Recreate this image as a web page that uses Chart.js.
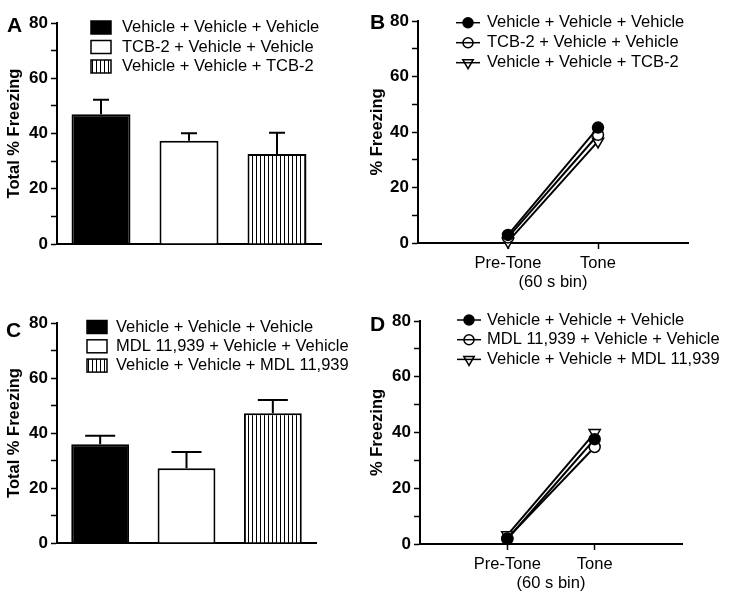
<!DOCTYPE html>
<html>
<head>
<meta charset="utf-8">
<script src="https://cdn.jsdelivr.net/npm/chart.js@4.4.0/dist/chart.umd.min.js"></script>
<style>
  body { margin: 0; background: #fff; width: 729px; height: 605px; position: relative; overflow: hidden;
         font-family: "Liberation Sans", Arial, sans-serif; }
  .panel { position: absolute; }
  .letter { position: absolute; font-weight: bold; font-size: 21px; line-height: 21px; color: #000; }
</style>
</head>
<body>
<div class="panel" style="left:0;top:0;width:365px;height:300px"><canvas id="chartA"></canvas></div>
<div class="panel" style="left:365px;top:0;width:364px;height:300px"><canvas id="chartB"></canvas></div>
<div class="panel" style="left:0;top:300px;width:365px;height:305px"><canvas id="chartC"></canvas></div>
<div class="panel" style="left:365px;top:300px;width:364px;height:305px"><canvas id="chartD"></canvas></div>
<div class="letter" style="left:7px;top:14px">A</div>
<div class="letter" style="left:370px;top:11px">B</div>
<div class="letter" style="left:6px;top:319px">C</div>
<div class="letter" style="left:370px;top:313px">D</div>
<script>
// ---- data ----
const groupsA = ['Vehicle + Vehicle + Vehicle', 'TCB-2 + Vehicle + Vehicle', 'Vehicle + Vehicle + TCB-2'];
const meansA = [47.0, 37.4, 32.6];
const semA = [5.2, 2.7, 7.7];

const groupsC = ['Vehicle + Vehicle + Vehicle', 'MDL 11,939 + Vehicle + Vehicle', 'Vehicle + Vehicle + MDL 11,939'];
const meansC = [35.9, 27.2, 47.2];
const semC = [3.1, 5.9, 4.8];

const timeBins = ['Pre-Tone', 'Tone'];
const vehVehVehB = [2.9, 41.6];
const tcbVehVehB = [2.0, 39.0];
const vehVehTcbB = [0.5, 36.6];

const vehVehVehD = [1.8, 37.6];
const mdlVehVehD = [2.0, 34.8];
const vehVehMdlD = [3.2, 39.9];

const yTicks = [0, 20, 40, 60, 80];

// ---- helpers ----
const FONT = '"Liberation Sans", Arial, sans-serif';

const stripes = (() => {
    const c = document.createElement('canvas');
    c.width = 4; c.height = 4;
    const g = c.getContext('2d');
    g.fillStyle = '#fff'; g.fillRect(0, 0, 4, 4);
    g.fillStyle = '#000'; g.fillRect(0, 0, 1, 4);
    return g.createPattern(c, 'repeat');
})();

// error bars (mean + SEM, upper only) drawn from the y scale
const errorBars = {
    id: 'errorBars',
    afterDatasetsDraw(chart, args, opts) {
        if (!opts.sem) return;
        const ctx = chart.ctx;
        const y = chart.scales.y;
        const meta = chart.getDatasetMeta(0);
        const values = chart.data.datasets[0].data;
        const cap = opts.cap || 8;
        ctx.save();
        ctx.strokeStyle = '#000';
        ctx.lineWidth = 2;
        meta.data.forEach((bar, i) => {
            const top = y.getPixelForValue(values[i] + opts.sem[i]);
            ctx.beginPath();
            ctx.moveTo(bar.x, bar.y);
            ctx.lineTo(bar.x, top);
            ctx.moveTo(bar.x - cap, top);
            ctx.lineTo(bar.x + cap, top);
            ctx.stroke();
        });
        ctx.restore();
    }
};

// legend stacked in the top of the plot, like the original figure
const panelLegend = {
    id: 'panelLegend',
    afterDraw(chart, args, opts) {
        if (!opts.kind) return;
        const ctx = chart.ctx;
        const datasets = chart.data.datasets;
        const labels = opts.kind === 'bar' ? chart.data.labels : datasets.map(d => d.label);
        ctx.save();
        ctx.font = '16.5px ' + FONT;
        ctx.textBaseline = 'middle';
        labels.forEach((label, i) => {
            const y = opts.y + i * opts.gap;
            ctx.strokeStyle = '#000';
            ctx.lineWidth = 1.5;
            if (opts.kind === 'bar') {
                ctx.fillStyle = datasets[0].backgroundColor[i];
                ctx.fillRect(opts.x, y - 6.5, 20, 13);
                ctx.strokeRect(opts.x, y - 6.5, 20, 13);
            } else {
                const ds = datasets[i];
                const cx = opts.x + 12;
                const r = ds.pointRadius - 0.5;
                ctx.fillStyle = ds.pointBackgroundColor;
                ctx.beginPath();
                if (ds.pointStyle === 'triangle') {
                    ctx.moveTo(cx, y + r);
                    ctx.lineTo(cx - r * 0.866, y - r * 0.5);
                    ctx.lineTo(cx + r * 0.866, y - r * 0.5);
                    ctx.closePath();
                } else {
                    ctx.arc(cx, y, r, 0, Math.PI * 2);
                }
                ctx.fill();
                ctx.stroke();
                // the key line runs through the symbol
                ctx.lineWidth = 1.5;
                ctx.beginPath();
                ctx.moveTo(opts.x, y);
                ctx.lineTo(opts.x + 24, y);
                ctx.stroke();
            }
            ctx.fillStyle = '#000';
            ctx.fillText(label, opts.textX, y);
        });
        ctx.restore();
    }
};

function yScale(width, titleText, titlePad) {
    return {
        min: 0, max: 80,
        afterFit: s => { s.width = width; },
        ticks: {
            stepSize: 10,
            color: '#000',
            padding: 3,
            font: { family: FONT, size: 17, weight: 'bold' },
            callback: v => yTicks.includes(v) ? v : ''
        },
        grid: { drawOnChartArea: false, color: '#000', tickLength: 6, tickWidth: 1.5 },
        border: { color: '#000', width: 2 },
        title: {
            display: true, text: titleText, color: '#000',
            font: { family: FONT, size: 16.5, weight: 'bold' },
            padding: { top: titlePad, bottom: 0 }
        }
    };
}

function barChart(id, groups, means, sem, legend, padRight, cap) {
    return new Chart(document.getElementById(id), {
        type: 'bar',
        data: {
            labels: groups,
            datasets: [{
                data: means,
                backgroundColor: ['#000', '#fff', stripes],
                borderColor: '#000',
                borderWidth: 2,
                borderSkipped: 'bottom',
                barPercentage: 0.67,
                categoryPercentage: 1
            }]
        },
        options: {
            responsive: true,
            maintainAspectRatio: false,
            animation: false,
            layout: { padding: { top: 23, right: padRight, bottom: legend.bottom, left: 0 } },
            scales: {
                x: {
                    afterFit: s => { s.height = 0; },
                    ticks: { display: false },
                    grid: { drawOnChartArea: false, drawTicks: false },
                    border: { color: '#000', width: 2 }
                },
                y: yScale(57, 'Total % Freezing', 5)
            },
            plugins: {
                legend: { display: false },
                tooltip: { enabled: false },
                errorBars: { sem: sem, cap: cap },
                panelLegend: legend
            }
        },
        plugins: [errorBars, panelLegend]
    });
}

function lineSet(label, values, style) {
    return Object.assign({
        label: label,
        data: values.map((v, i) => ({ x: i + 1, y: v })),
        borderColor: '#000',
        borderWidth: 2,
        pointBorderColor: '#000',
        pointBorderWidth: 1.5,
        pointRadius: 5.5,
        pointStyle: 'circle',
        clip: false
    }, style);
}

function lineChart(id, names, series, opts) {
    return new Chart(document.getElementById(id), {
        type: 'line',
        data: {
            datasets: [
                lineSet(names[0], series[0], { pointBackgroundColor: '#000' }),
                lineSet(names[1], series[1], { pointBackgroundColor: '#fff' }),
                lineSet(names[2], series[2], { pointBackgroundColor: '#fff', pointStyle: 'triangle', pointRotation: 180, pointRadius: 6.5 })
            ]
        },
        options: {
            responsive: true,
            maintainAspectRatio: false,
            animation: false,
            layout: { padding: { top: opts.top, right: opts.right, bottom: 0, left: 0 } },
            scales: {
                x: {
                    type: 'linear', min: 0, max: 3,
                    afterFit: s => { s.height = opts.xHeight; },
                    afterBuildTicks: s => { s.ticks = timeBins.map((_, i) => ({ value: i + 1 })); },
                    ticks: {
                        color: '#000', padding: 5,
                        font: { family: FONT, size: 16.5 },
                        callback: v => timeBins[v - 1] || ''
                    },
                    grid: { drawOnChartArea: false, color: '#000', tickLength: 6, tickWidth: 1.5 },
                    border: { color: '#000', width: 2 },
                    title: {
                        display: true, text: '(60 s bin)', color: '#000',
                        font: { family: FONT, size: 16.5 },
                        padding: { top: 0, bottom: opts.titlePad }
                    }
                },
                y: yScale(opts.yWidth, '% Freezing', 3)
            },
            plugins: {
                legend: { display: false },
                tooltip: { enabled: false },
                panelLegend: opts.legend
            }
        },
        plugins: [panelLegend]
    });
}

barChart('chartA', groupsA, meansA, semA,
    { kind: 'bar', x: 91, textX: 122, y: 27.5, gap: 19.5, bottom: 56 }, 44, 8);

barChart('chartC', groupsC, meansC, semC,
    { kind: 'bar', x: 87, textX: 116, y: 27, gap: 19.3, bottom: 62 }, 49, 15);

lineChart('chartB', groupsA, [vehVehVehB, tcbVehVehB, vehVehTcbB], {
    top: 21, right: 41, yWidth: 53, xHeight: 57, titlePad: 8,
    legend: { kind: 'line', x: 91, textX: 122, y: 22.7, gap: 20 }
});

lineChart('chartD', groupsC, [vehVehVehD, mdlVehVehD, vehVehMdlD], {
    top: 21, right: 47, yWidth: 55, xHeight: 61, titlePad: 12,
    legend: { kind: 'line', x: 92, textX: 122, y: 20, gap: 19.7 }
});
</script>
</body>
</html>
